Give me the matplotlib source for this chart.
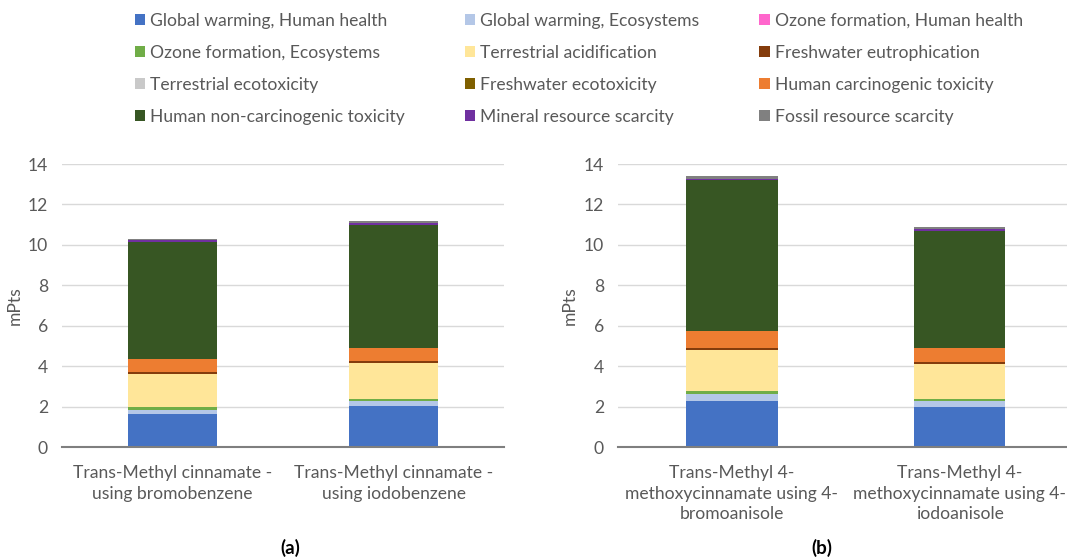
import matplotlib.pyplot as plt
import numpy as np
from matplotlib.patches import Patch

plt.rcParams['font.family'] = ['Lato', 'DejaVu Sans']

impacts = [
    "Global warming, Human health",
    "Global warming, Ecosystems",
    "Ozone formation, Human health",
    "Ozone formation, Ecosystems",
    "Terrestrial acidification",
    "Freshwater eutrophication",
    "Terrestrial ecotoxicity",
    "Freshwater ecotoxicity",
    "Human carcinogenic toxicity",
    "Human non-carcinogenic toxicity",
    "Mineral resource scarcity",
    "Fossil resource scarcity",
]
colors = ["#4472C4", "#B4C7E7", "#FF66CC", "#70AD47", "#FFE699", "#843C0C",
          "#C9C9C9", "#7F6000", "#ED7D31", "#375623", "#7030A0", "#808080"]

# values in mPts, one entry per impact category (same order as impacts)
a_bromobenzene = [1.62, 0.23, 0.005, 0.10, 1.67, 0.07, 0.01, 0.005, 0.65, 5.78, 0.08, 0.07]
a_iodobenzene = [2.01, 0.28, 0.005, 0.10, 1.77, 0.07, 0.01, 0.005, 0.67, 6.07, 0.08, 0.10]
b_bromoanisole = [2.29, 0.33, 0.005, 0.13, 2.05, 0.08, 0.01, 0.005, 0.86, 7.45, 0.05, 0.16]
b_iodoanisole = [2.00, 0.28, 0.005, 0.10, 1.74, 0.07, 0.01, 0.005, 0.67, 5.81, 0.08, 0.13]

labels_a = ["Trans-Methyl cinnamate -\nusing bromobenzene",
            "Trans-Methyl cinnamate -\nusing iodobenzene"]
labels_b = ["Trans-Methyl 4-\nmethoxycinnamate using 4-\nbromoanisole",
            "Trans-Methyl 4-\nmethoxycinnamate using 4-\niodoanisole"]

txt = "#595959"
fs = 12.6
fig = plt.figure(figsize=(10.67, 5.58), dpi=100)
W, H = 1067, 558
ax_a = fig.add_axes([62 / W, 111 / H, 442 / W, 283 / H])
ax_b = fig.add_axes([618 / W, 111 / H, 449 / W, 283 / H])


def draw(ax, bars, labels, xmax):
    data = np.array(bars)
    x = np.arange(len(bars))
    bottom = np.zeros(len(bars))
    for i in range(len(impacts)):
        ax.bar(x, data[:, i], 0.4, bottom=bottom, color=colors[i], zorder=3)
        bottom += data[:, i]
    ax.set_xlim(-0.5, xmax)
    ax.set_ylim(0, 14)
    ax.set_yticks(range(0, 15, 2))
    ax.set_xticks(x)
    ax.set_xticklabels(labels, linespacing=1.35)
    ax.grid(axis="y", color="#D9D9D9", linewidth=1, zorder=0)
    for s in ["top", "right", "left"]:
        ax.spines[s].set_visible(False)
    ax.spines["bottom"].set_color("#7F7F7F")
    ax.spines["bottom"].set_linewidth(1.5)
    ax.spines["bottom"].set_zorder(4)
    ax.tick_params(length=0, labelsize=fs, colors=txt, pad=13)
    ax.tick_params(axis="y", pad=10)
    ax.set_ylabel("mPts", fontsize=fs, color=txt)


draw(ax_a, [a_bromobenzene, a_iodobenzene], labels_a, 1.5)
draw(ax_b, [b_bromoanisole, b_iodoanisole], labels_b, 1.47)
ax_a.yaxis.set_label_coords((23 - 62) / 442, 0.5)
ax_b.yaxis.set_label_coords((578 - 618) / 449, 0.5)

fig.text(290 / W, 1 - 548 / H, "(a)", ha="center", va="center",
         fontsize=13.5, fontweight="bold")
fig.text(822 / W, 1 - 548 / H, "(b)", ha="center", va="center",
         fontsize=13.5, fontweight="bold")

# legend filled row by row like the original, so reorder for matplotlib's column fill
handles = [Patch(facecolor=c) for c in colors]
order = [i * 3 + j for j in range(3) for i in range(4)]
fig.legend([handles[k] for k in order], [impacts[k] for k in order],
           ncol=3, loc="upper left", bbox_to_anchor=(119 / W, 1 + 3 / H),
           frameon=False, fontsize=fs, handlelength=0.6, handleheight=0.6,
           handletextpad=0.3, columnspacing=3.4, labelspacing=0.92,
           labelcolor=txt)

fig.savefig("out.png", dpi=100)
